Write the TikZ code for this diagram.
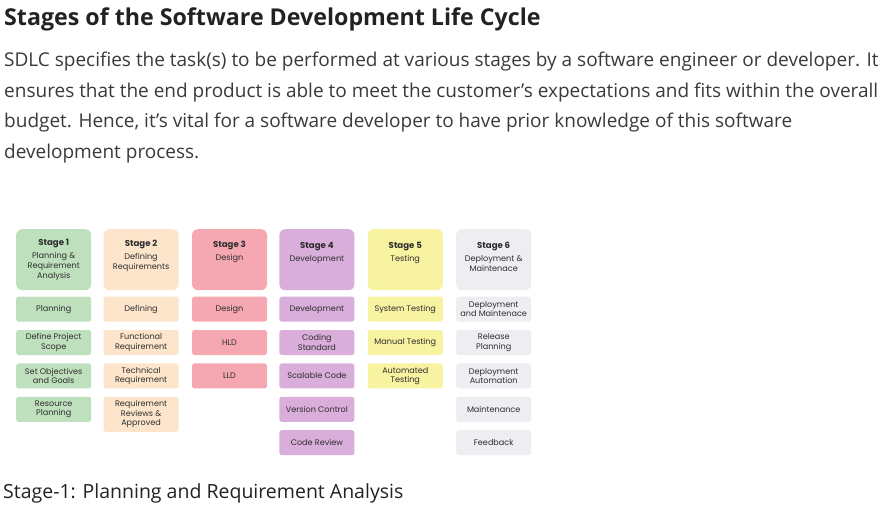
\documentclass[tikz,border=0pt]{standalone}
\usepackage{fontspec}
\setmainfont{Open Sans}
\newfontfamily\boxfont{Poppins}
\usepackage{xcolor}
\usepackage{tikz}
\usetikzlibrary{positioning}

\definecolor{stgreen}{HTML}{BFE0BD}
\definecolor{stpeach}{HTML}{FDE5CC}
\definecolor{stpink}{HTML}{F5A8B2}
\definecolor{stpurple}{HTML}{D9AEDA}
\definecolor{styellow}{HTML}{F8F3A0}
\definecolor{stgray}{HTML}{EEEDF1}
\definecolor{inktitle}{HTML}{222222}
\definecolor{inkbody}{HTML}{3A3A3A}
\definecolor{inkbox}{HTML}{2E2E2E}

\begin{document}
\begin{tikzpicture}[
    x=1pt, y=-1pt,
    head/.style={rounded corners=6pt, minimum width=75pt, minimum height=61pt, inner sep=0pt, draw=none},
    headtext/.style={align=center, inner sep=0pt, text=inkbox, font=\boxfont\fontsize{8.1}{9.8}\selectfont},
    item/.style={rounded corners=2.5pt, minimum width=75pt, minimum height=25pt, inner sep=1pt, align=center,
                 text=inkbox, font=\boxfont\fontsize{8.1}{9.6}\selectfont},
    para/.style={align=left, inner sep=0pt, text=inkbody}
]
% page
\fill[white] (0,0) rectangle (887,507);
\useasboundingbox (0,0) rectangle (887,507);

% headings and text
\node[anchor=base west, inner sep=0pt, text=inktitle, font=\fontsize{23.2}{28}\selectfont\bfseries] (title) at (4,25)
    {Stages of the Software Development Life Cycle};
\node[para, anchor=north west, font=\fontsize{19}{30.5}\selectfont] (intro) at (4,52)
    {SDLC specifies the task(s) to be performed at various stages by a software engineer or developer. It\\
     ensures that the end product is able to meet the customer’s expectations and fits within the overall\\
     budget. Hence, it’s vital for a software developer to have prior knowledge of this software\\
     development process.};
\node[anchor=base west, inner sep=0pt, text=inktitle, font=\fontsize{19.5}{23}\selectfont] (stage1head) at (3,498)
    {Stage-1: Planning and Requirement Analysis};

% stage headers
\node[head, fill=stgreen, anchor=north west] (st1) at (16,229) {};
\node[head, fill=stpeach, right=12pt of st1] (st2) {};
\node[head, fill=stpink, right=13pt of st2] (st3) {};
\node[head, fill=stpurple, right=12pt of st3] (st4) {};
\node[head, fill=styellow, right=13pt of st4] (st5) {};
\node[head, fill=stgray, right=13pt of st5] (st6) {};

\node[headtext, below=10pt of st1.north] (t1) {{\fontsize{8.6}{9.8}\selectfont\bfseries Stage 1}\\[3.5pt]Planning \&\\Requirement\\Analysis};
\node[headtext, below=11pt of st2.north] (t2) {{\fontsize{8.6}{9.8}\selectfont\bfseries Stage 2}\\[3.5pt]Defining\\Requirements};
\node[headtext, below=12pt of st3.north] (t3) {{\fontsize{8.6}{9.8}\selectfont\bfseries Stage 3}\\[3.5pt]Design};
\node[headtext, below=13pt of st4.north] (t4) {{\fontsize{8.6}{9.8}\selectfont\bfseries Stage 4}\\[3.5pt]Development};
\node[headtext, below=13pt of st5.north] (t5) {{\fontsize{8.6}{9.8}\selectfont\bfseries Stage 5}\\[3.5pt]Testing};
\node[headtext, below=13pt of st6.north] (t6) {{\fontsize{8.6}{9.8}\selectfont\bfseries Stage 6}\\[3.5pt]Deployment \&\\Maintenace};

% stage 1
\node[item, fill=stgreen, below=6pt of st1] (planning) {Planning};
\node[item, fill=stgreen, below=8pt of planning] (scope) {Define Project\\Scope};
\node[item, fill=stgreen, below=8pt of scope] (objectives) {Set Objectives\\and Goals};
\node[item, fill=stgreen, below=8pt of objectives] (resource) {Resource\\Planning};

% stage 2
\node[item, fill=stpeach, below=6pt of st2] (defining) {Defining};
\node[item, fill=stpeach, below=8pt of defining] (functional) {Functional\\Requirement};
\node[item, fill=stpeach, below=8pt of functional] (technical) {Technical\\Requirement};
\node[item, fill=stpeach, below=8pt of technical, minimum height=35pt] (reviews) {Requirement\\Reviews \&\\Approved};

% stage 3
\node[item, fill=stpink, below=6pt of st3] (design) {Design};
\node[item, fill=stpink, below=8pt of design] (hld) {HLD};
\node[item, fill=stpink, below=8pt of hld] (lld) {LLD};

% stage 4
\node[item, fill=stpurple, below=6pt of st4] (development) {Development};
\node[item, fill=stpurple, below=8pt of development] (coding) {Coding\\Standard};
\node[item, fill=stpurple, below=8pt of coding] (scalable) {Scalable Code};
\node[item, fill=stpurple, below=8pt of scalable] (version) {Version Control};
\node[item, fill=stpurple, below=8pt of version] (codereview) {Code Review};

% stage 5
\node[item, fill=styellow, below=6pt of st5] (systest) {System Testing};
\node[item, fill=styellow, below=8pt of systest] (manual) {Manual Testing};
\node[item, fill=styellow, below=8pt of manual] (automated) {Automated\\Testing};

% stage 6
\node[item, fill=stgray, below=6pt of st6] (deploy) {Deployment\\and Maintenace};
\node[item, fill=stgray, below=8pt of deploy] (release) {Release\\Planning};
\node[item, fill=stgray, below=8pt of release] (automation) {Deployment\\Automation};
\node[item, fill=stgray, below=8pt of automation] (maintenance) {Maintenance};
\node[item, fill=stgray, below=8pt of maintenance] (feedback) {Feedback};
\end{tikzpicture}
\end{document}
